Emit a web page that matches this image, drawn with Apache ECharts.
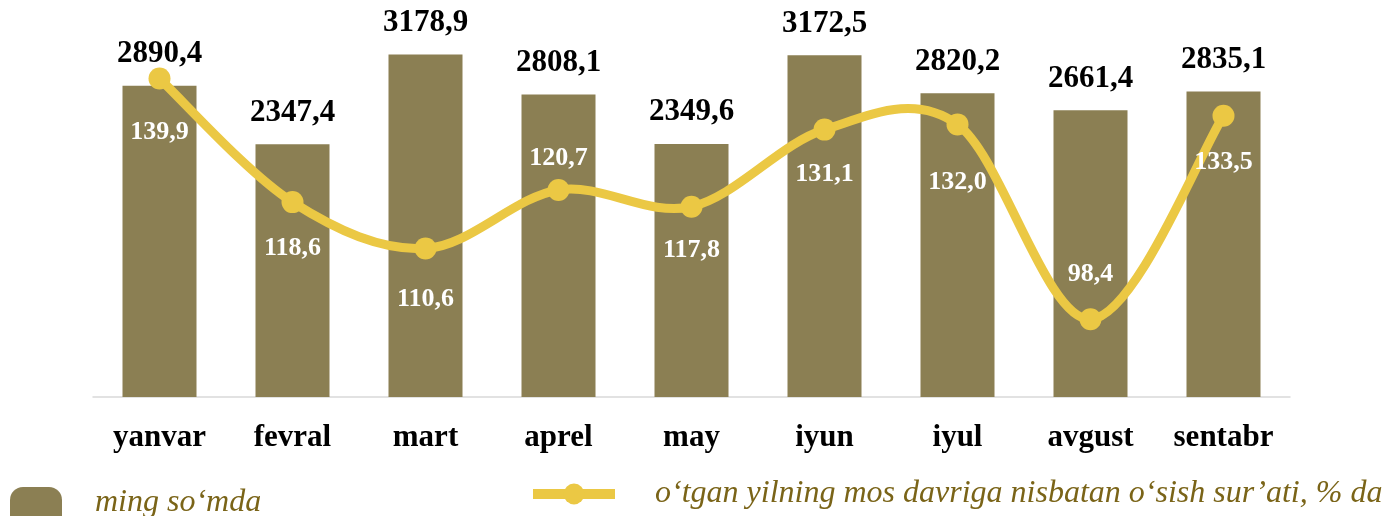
<!DOCTYPE html>
<html><head><meta charset="utf-8">
<script src="https://cdn.jsdelivr.net/npm/echarts@6/dist/echarts.min.js"></script>
<style>html,body{margin:0;padding:0;background:#fff}#c{width:1387px;height:516px}</style>
</head><body><div id="c"></div>
<script>
const categories = ['yanvar','fevral','mart','aprel','may','iyun','iyul','avgust','sentabr'];
const amounts = [2890.4, 2347.4, 3178.9, 2808.1, 2349.6, 3172.5, 2820.2, 2661.4, 2835.1];
const growth = [139.9, 118.6, 110.6, 120.7, 117.8, 131.1, 132.0, 98.4, 133.5];
const barName = 'ming so\u2018mda';
const lineName = 'o\u2018tgan yilning mos davriga nisbatan o\u2018sish sur\u2019ati, % da';

// label placement (style only): above/below and distance from marker
const growthLabelAbove = [false, false, false, true, false, false, false, true, false];
const growthLabelDist = [30, 22, 27, 8, 20, 21, 34, 21, 23];

const fmt = v => v.toFixed(1).replace('.', ',');
const serif = '"Liberation Serif","Times New Roman",serif';
const gold = '#ebc844';
const olive = '#8b7f53';
const legendText = '#7a6418';

const chart = echarts.init(document.getElementById('c'));
chart.setOption({
  animation: false,
  grid: {left: 93, right: 97, top: 20, bottom: 119},
  xAxis: {
    type: 'category', data: categories,
    axisLine: {lineStyle: {color: '#d9d9d9', width: 1.5}},
    axisTick: {show: false},
    axisLabel: {color: '#000', fontFamily: serif, fontWeight: 700, fontSize: 31, margin: 25}
  },
  yAxis: [
    {type: 'value', min: 0, max: 3500, show: false, splitLine: {show: false}},
    {type: 'value', min: 85, max: 150, show: false, splitLine: {show: false}}
  ],
  legend: [
    {data: [{name: barName, icon: 'roundRect'}], left: 10, top: 487, padding: 0,
     itemWidth: 52, itemHeight: 68,
     formatter: n => '{a|' + n + '}\n{b| }',
     textStyle: {rich: {
       a: {color: legendText, fontFamily: serif, fontStyle: 'italic', fontSize: 32, lineHeight: 32, padding: [0, 0, 0, 28]},
       b: {fontSize: 10, lineHeight: 36}
     }}},
    {data: [lineName], left: 528, top: 478, padding: 0, itemWidth: 82, itemHeight: 26,
     lineStyle: {width: 10, color: gold, opacity: 1},
     textStyle: {color: legendText, fontFamily: serif, fontStyle: 'italic', fontSize: 32,
                 lineHeight: 32, padding: [0, 0, 0, 35]}}
  ],
  series: [
    {
      name: barName, type: 'bar', data: amounts, barWidth: 74, yAxisIndex: 0, z: 1,
      itemStyle: {color: olive},
      label: {show: true, position: 'top', distance: 16, formatter: p => fmt(p.value),
              color: '#000', fontFamily: serif, fontWeight: 700, fontSize: 31}
    },
    {
      type: 'custom', yAxisIndex: 1, silent: true, z: 2,
      data: growth.map((v, i) => [i, v]),
      renderItem: (params, api) => {
        if (params.dataIndex !== 0) return null;
        const p = growth.map((v, i) => api.coord([i, v]));
        let d = 'M' + p[0][0] + ' ' + p[0][1];
        for (let i = 0; i < p.length - 1; i++) {
          const p0 = p[Math.max(i - 1, 0)], p1 = p[i], p2 = p[i + 1], p3 = p[Math.min(i + 2, p.length - 1)];
          const c1x = p1[0] + (p2[0] - p0[0]) / 6, c1y = p1[1] + (p2[1] - p0[1]) / 6;
          const c2x = p2[0] - (p3[0] - p1[0]) / 6, c2y = p2[1] - (p3[1] - p1[1]) / 6;
          d += ' C' + c1x + ' ' + c1y + ' ' + c2x + ' ' + c2y + ' ' + p2[0] + ' ' + p2[1];
        }
        return {type: 'path', shape: {pathData: d},
                style: {fill: null, stroke: gold, lineWidth: 9, lineCap: 'round', lineJoin: 'round'}};
      }
    },
    {
      name: lineName, type: 'line', yAxisIndex: 1, z: 3,
      data: growth.map((v, i) => ({value: v, label: {
        position: growthLabelAbove[i] ? 'top' : 'bottom', distance: growthLabelDist[i]}})),
      symbol: 'circle', symbolSize: 22,
      lineStyle: {color: gold, width: 0, opacity: 0},
      itemStyle: {color: gold},
      label: {show: true, formatter: p => fmt(p.value),
              color: '#fff', fontFamily: serif, fontWeight: 700, fontSize: 26}
    }
  ]
});
</script></body></html>
